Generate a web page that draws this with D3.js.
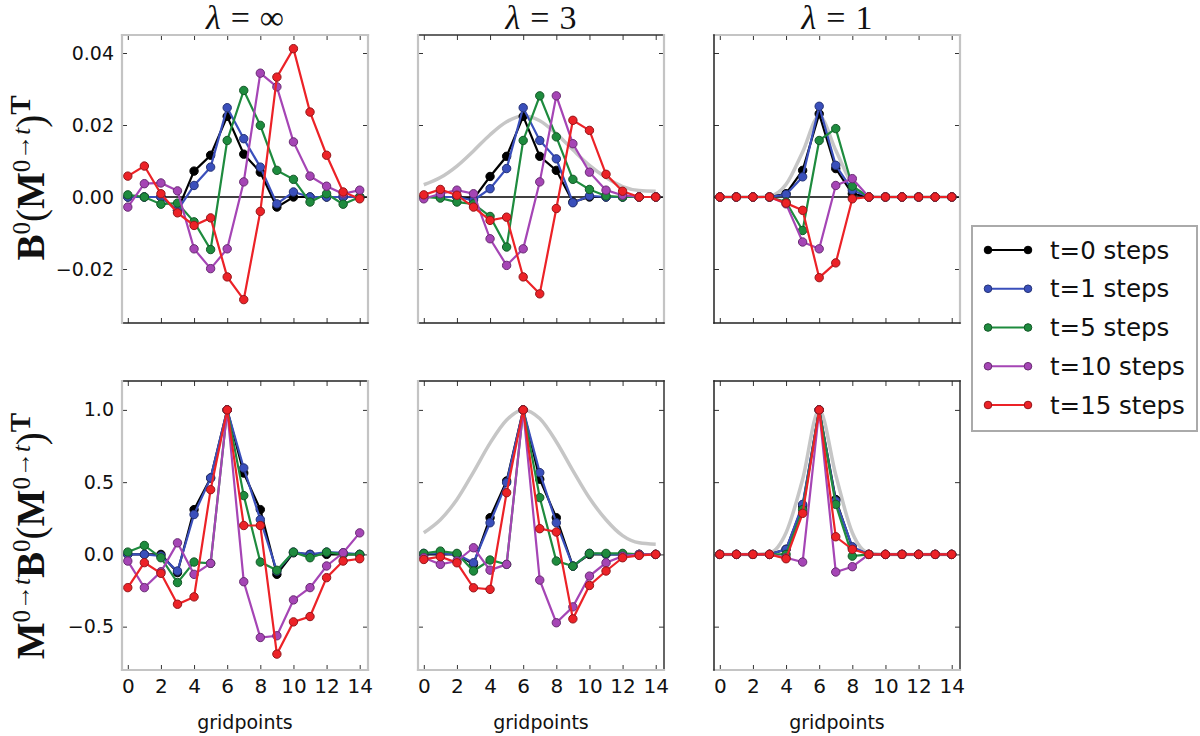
<!DOCTYPE html>
<html>
<head>
<meta charset="utf-8">
<script src="https://cdn.jsdelivr.net/npm/d3@7/dist/d3.min.js"></script>
<style>
    body { margin: 0; background: #fff; }
    svg { display: block; }
</style>
</head>
<body>
<div id="chart"></div>
<script>
// gridpoints along the x axis
const gridpoints = [0, 1, 2, 3, 4, 5, 6, 7, 8, 9, 10, 11, 12, 13, 14];
const xTicks = [0, 2, 4, 6, 8, 10, 12, 14];

const seriesNames = ["t=0 steps", "t=1 steps", "t=5 steps", "t=10 steps", "t=15 steps"];
const seriesColors = ["#000000", "#3a4fbb", "#1e8b3e", "#a545b5", "#ec2227"];

const lambdaTitles = ["\u221e", "3", "1"];

const topTicks = [-0.02, 0, 0.02, 0.04];
const topTickLabels = ["\u22120.02", "0.00", "0.02", "0.04"];
const bottomTicks = [-0.5, 0, 0.5, 1.0];
const bottomTickLabels = ["\u22120.5", "0.0", "0.5", "1.0"];

// top row: B0 (M^{0->t})^T
const topInfT0 = [0, 0, 0, -0.0037, 0.0072, 0.0116, 0.0224, 0.0119, 0.0069, -0.0028, 0, 0, 0, 0, 0];
const topInfT1 = [0, 0, 0, -0.0037, 0.0032, 0.0083, 0.0248, 0.0162, 0.0083, -0.0019, 0.0014, 0, 0, 0, 0];
const topInfT5 = [0.0006, 0, -0.002, -0.0017, -0.0069, -0.0146, 0.0157, 0.0296, 0.0199, 0.0074, 0.0049, -0.0014, 0.0009, -0.002, 0];
const topInfT10 = [-0.0028, 0.0037, 0.0039, 0.0017, -0.0144, -0.0199, -0.0144, 0.0042, 0.0344, 0.0306, 0.0153, 0.0058, 0.003, 0.0009, 0.0019];
const topInfT15 = [0.0058, 0.0086, 0.0009, -0.0044, -0.0079, -0.0058, -0.0222, -0.0285, -0.004, 0.0333, 0.0412, 0.0236, 0.0116, 0.0014, -0.0005];

const top3T0 = [0, 0, 0, -0.0005, 0.0057, 0.0113, 0.0224, 0.0113, 0.0074, -0.0014, 0, 0, 0, 0, 0];
const top3T1 = [0, 0, 0, -0.0009, 0.0023, 0.0079, 0.0248, 0.0157, 0.0106, -0.0016, 0.0003, 0, 0, 0, 0];
const top3T5 = [0, -0.0003, -0.0014, -0.0019, -0.0054, -0.0139, 0.0157, 0.0281, 0.0167, 0.0049, 0.0021, 0.0003, 0, 0, 0];
const top3T10 = [-0.0005, 0.0009, 0.0019, 0.0009, -0.0116, -0.019, -0.0144, 0.0042, 0.0281, 0.0148, 0.0069, 0.0019, 0.0005, 0, 0];
const top3T15 = [0.0006, 0.0021, 0.0005, -0.0028, -0.0065, -0.0056, -0.0222, -0.0269, -0.0032, 0.0213, 0.0185, 0.0063, 0.0016, 0, 0];

const top1T0 = [0, 0, 0, 0, 0.0009, 0.0074, 0.0231, 0.0079, 0.0009, 0, 0, 0, 0, 0, 0];
const top1T1 = [0, 0, 0, 0, 0.0007, 0.0056, 0.0252, 0.0088, 0.0019, 0, 0, 0, 0, 0, 0];
const top1T5 = [0, 0, 0, 0, -0.0014, -0.0093, 0.0157, 0.019, 0.003, 0, 0, 0, 0, 0, 0];
const top1T10 = [0, 0, 0, 0, -0.0019, -0.0125, -0.0144, 0.0032, 0.0051, 0, 0, 0, 0, 0, 0];
const top1T15 = [0, 0, 0, 0, -0.0017, -0.0037, -0.0224, -0.0183, -0.0005, 0, 0, 0, 0, 0, 0];

// bottom row: M^{0->t} B0 (M^{0->t})^T
const botInfT0 = [0, 0, 0, -0.126, 0.31, 0.529, 1.0, 0.563, 0.31, -0.138, 0.011, 0, 0, 0, 0];
const botInfT1 = [0, 0, -0.011, -0.115, 0.276, 0.529, 1.0, 0.598, 0.241, -0.115, 0.016, 0, 0.016, 0.011, 0];
const botInfT5 = [0.016, 0.062, -0.023, -0.195, -0.053, -0.062, 1.0, 0.407, -0.053, -0.11, 0.016, -0.023, 0.016, 0, 0];
const botInfT10 = [-0.046, -0.23, -0.12, 0.08, -0.138, -0.062, 1.0, -0.189, -0.575, -0.563, -0.315, -0.23, -0.08, 0.011, 0.149];
const botInfT15 = [-0.23, -0.057, -0.131, -0.345, -0.294, 0.448, 1.0, 0.2, 0.2, -0.69, -0.467, -0.43, -0.161, -0.046, -0.03];

const bot3T0 = [0, 0, 0, -0.069, 0.254, 0.508, 1.0, 0.52, 0.254, -0.081, 0, 0, 0, 0, 0];
const bot3T1 = [0.007, 0.007, 0, -0.058, 0.219, 0.497, 1.0, 0.566, 0.219, -0.081, 0.007, 0, 0, 0, 0];
const bot3T5 = [0.007, 0.023, 0.007, -0.115, -0.039, -0.069, 1.0, 0.393, -0.046, -0.081, 0.007, 0.007, 0.007, 0, 0];
const bot3T10 = [-0.023, -0.069, -0.046, 0.046, -0.109, -0.069, 1.0, -0.178, -0.473, -0.363, -0.15, -0.058, -0.012, 0, 0];
const bot3T15 = [-0.035, -0.016, -0.058, -0.231, -0.242, 0.427, 1.0, 0.178, 0.155, -0.446, -0.215, -0.115, -0.023, -0.007, 0];

const bot1T0 = [0, 0, 0, 0, 0.035, 0.335, 1.0, 0.38, 0.046, 0, 0, 0, 0, 0, 0];
const bot1T1 = [0, 0, 0, 0, 0.035, 0.346, 1.0, 0.37, 0.053, 0, 0, 0, 0, 0, 0];
const bot1T5 = [0, 0, 0, 0, 0, 0.31, 1.0, 0.346, -0.012, 0, 0, 0, 0, 0, 0];
const bot1T10 = [0, 0, 0, 0, -0.023, -0.053, 1.0, -0.122, -0.085, 0, 0, 0, 0, 0, 0];
const bot1T15 = [0, 0, 0, 0, -0.03, 0.284, 1.0, 0.122, 0.035, 0, 0, 0, 0, 0, 0];

// grey reference correlation curves
const grayTop3 = [0.0034, 0.0054, 0.0086, 0.0128, 0.0173, 0.0209, 0.0225, 0.0212, 0.0176, 0.0131, 0.0088, 0.0054, 0.0029, 0.0018, 0.0016];
const grayBot3 = [0.15, 0.24, 0.38, 0.57, 0.77, 0.93, 1.0, 0.94, 0.78, 0.58, 0.39, 0.24, 0.13, 0.08, 0.07];
const grayTop1 = [0, 0, 0, 0.0002, 0.0035, 0.0125, 0.0225, 0.013, 0.0035, 0.0002, 0, 0, 0, 0, 0];
const grayBot1 = [0, 0, 0, 0.01, 0.15, 0.52, 1.0, 0.55, 0.15, 0.01, 0, 0, 0, 0, 0];

const WIDTH = 1200;
const HEIGHT = 736;
const PANEL_W = 246;
const COL_X = [122, 418, 714];
const ROW_Y = [35, 381];
const ROW_H = [288, 289];
const X_DOMAIN = [-0.35, 14.5];
const GREY = "#c6c6c6";

// edge colours per panel: [top, right, bottom, left]
const edgeColors = [
    ["#c4c4c4", "#c4c4c4", "#222", "#c4c4c4"],
    ["#333", "#c4c4c4", "#222", "#c4c4c4"],
    ["#c4c4c4", "#c4c4c4", "#222", "#222"],
    ["#222", "#c4c4c4", "#c4c4c4", "#c4c4c4"],
    ["#222", "#333", "#c4c4c4", "#c4c4c4"],
    ["#222", "#333", "#c4c4c4", "#222"],
];

class CorrPanel {
    constructor(_svg, _config) {
        this.svg = _svg;
        this.config = _config;
        this.initVis();
    }

    initVis() {
        let vis = this;
        let c = vis.config;

        vis.width = PANEL_W;
        vis.height = c.height;

        vis.g = vis.svg
            .append("g")
            .attr("transform", `translate(${c.left},${c.top})`);

        vis.x = d3.scaleLinear().domain(X_DOMAIN).range([0, vis.width]);
        vis.y = d3.scaleLinear().domain(c.yDomain).range([vis.height, 0]);

        vis.updateVis();
    }

    updateVis() {
        let vis = this;
        let c = vis.config;

        // inward ticks on all four sides
        const bottom = d3.axisBottom(vis.x).tickValues(xTicks).tickSizeInner(-5).tickSizeOuter(0).tickPadding(9)
            .tickFormat(c.xLabels ? d3.format("d") : "");
        const top = d3.axisTop(vis.x).tickValues(xTicks).tickSizeInner(-5).tickSizeOuter(0).tickFormat("");
        const left = d3.axisLeft(vis.y).tickValues(c.yTicks).tickSizeInner(-5).tickSizeOuter(0).tickPadding(8)
            .tickFormat((d, i) => (c.yLabels ? c.yTickLabels[i] : ""));
        const right = d3.axisRight(vis.y).tickValues(c.yTicks).tickSizeInner(-5).tickSizeOuter(0).tickFormat("");

        const axes = [
            [bottom, `translate(0,${vis.height})`, "x"],
            [top, null, ""],
            [left, null, "y"],
            [right, `translate(${vis.width},0)`, ""],
        ];
        axes.forEach(([ax, tr, kind]) => {
            const a = vis.g.append("g").attr("transform", tr).call(ax);
            a.select(".domain").remove();
            a.selectAll("line").attr("stroke", "#333").attr("stroke-width", 1);
            a.selectAll("text")
                .attr("fill", "#111")
                .style("font-family", "DejaVu Sans")
                .style("font-size", kind === "x" ? "20px" : "19px");
        });

        // grey reference curve
        if (c.gray) {
            const smooth = d3.line()
                .x((d, i) => vis.x(gridpoints[i]))
                .y((d) => vis.y(d))
                .curve(d3.curveMonotoneX);
            vis.g.append("path")
                .attr("d", smooth(c.gray))
                .attr("fill", "none")
                .attr("stroke", GREY)
                .attr("stroke-width", 3.5);
        }

        // zero line on the top row
        if (c.zeroLine) {
            vis.g.append("line")
                .attr("x1", 0)
                .attr("x2", vis.width)
                .attr("y1", vis.y(0))
                .attr("y2", vis.y(0))
                .attr("stroke", "#000")
                .attr("stroke-width", 1.3);
        }

        const line = d3.line()
            .x((d, i) => vis.x(gridpoints[i]))
            .y((d) => vis.y(d));

        c.series.forEach((values, s) => {
            const col = seriesColors[s];
            vis.g.append("path")
                .attr("d", line(values))
                .attr("fill", "none")
                .attr("stroke", col)
                .attr("stroke-width", 2.2);

            vis.g.append("g")
                .selectAll("circle")
                .data(values)
                .enter()
                .append("circle")
                .attr("cx", (d, i) => vis.x(gridpoints[i]))
                .attr("cy", (d) => vis.y(d))
                .attr("r", 4.2)
                .attr("fill", col)
                .attr("stroke", d3.color(col).darker(1.3))
                .attr("stroke-width", 1);
        });

        // frame, one edge at a time
        const e = c.edges;
        const sides = [
            [0, 0, vis.width, 0, e[0]],
            [vis.width, 0, vis.width, vis.height, e[1]],
            [0, vis.height, vis.width, vis.height, e[2]],
            [0, 0, 0, vis.height, e[3]],
        ];
        sides.forEach(([x1, y1, x2, y2, col]) => {
            vis.g.append("line")
                .attr("x1", x1).attr("y1", y1)
                .attr("x2", x2).attr("y2", y2)
                .attr("stroke", col)
                .attr("stroke-width", col === "#c4c4c4" ? 2.2 : 1.5)
                .attr("stroke-linecap", "square");
        });

        if (c.xLabels) {
            vis.g.append("text")
                .attr("x", vis.width / 2)
                .attr("y", vis.height + 59)
                .attr("text-anchor", "middle")
                .style("font-family", "DejaVu Sans")
                .style("font-size", "19px")
                .attr("fill", "#111")
                .text("gridpoints");
        }
    }
}

const svg = d3.select("#chart")
    .append("svg")
    .attr("width", WIDTH)
    .attr("height", HEIGHT);

const topSeries = [
    [topInfT0, topInfT1, topInfT5, topInfT10, topInfT15],
    [top3T0, top3T1, top3T5, top3T10, top3T15],
    [top1T0, top1T1, top1T5, top1T10, top1T15],
];
const bottomSeries = [
    [botInfT0, botInfT1, botInfT5, botInfT10, botInfT15],
    [bot3T0, bot3T1, bot3T5, bot3T10, bot3T15],
    [bot1T0, bot1T1, bot1T5, bot1T10, bot1T15],
];
const topGray = [null, grayTop3, grayTop1];
const bottomGray = [null, grayBot3, grayBot1];

COL_X.forEach((left, col) => {
    new CorrPanel(svg, {
        left: left, top: ROW_Y[0], height: ROW_H[0],
        yDomain: [-0.035, 0.045], yTicks: topTicks, yTickLabels: topTickLabels,
        yLabels: col === 0, xLabels: false, zeroLine: true,
        series: topSeries[col], gray: topGray[col], edges: edgeColors[col],
    });
    new CorrPanel(svg, {
        left: left, top: ROW_Y[1], height: ROW_H[1],
        yDomain: [-0.8, 1.2], yTicks: bottomTicks, yTickLabels: bottomTickLabels,
        yLabels: col === 0, xLabels: true, zeroLine: false,
        series: bottomSeries[col], gray: bottomGray[col], edges: edgeColors[col + 3],
    });

    // column titles
    const t = svg.append("text")
        .attr("x", left + PANEL_W / 2)
        .attr("y", 29)
        .attr("text-anchor", "middle")
        .style("font-family", "'Liberation Serif', serif")
        .style("font-size", "34px")
        .attr("fill", "#111");
    t.append("tspan").style("font-style", "italic").text("\u03bb");
    t.append("tspan").attr("dx", 10).text("=");
    t.append("tspan").attr("dx", 10).text(lambdaTitles[col]);
});

// rotated math labels built from pieces: [text, size, weight, style, rise]
function mathLabel(cx, cy, pieces) {
    const t = svg.append("text")
        .attr("transform", `translate(${cx},${cy}) rotate(-90)`)
        .attr("text-anchor", "middle")
        .style("font-family", "'Liberation Serif', serif")
        .attr("fill", "#111");
    let prev = 0;
    pieces.forEach(([txt, size, weight, style, rise]) => {
        t.append("tspan")
            .attr("dy", prev - rise)
            .style("font-size", size + "px")
            .style("font-weight", weight)
            .style("font-style", style)
            .text(txt);
        prev = rise;
    });
}

mathLabel(44, 178, [
    ["B", 39, "bold", "normal", 0],
    ["0", 25, "normal", "normal", 14],
    ["(", 39, "normal", "normal", 0],
    ["M", 39, "bold", "normal", 0],
    ["0\u2192", 25, "normal", "normal", 14],
    ["t", 25, "normal", "italic", 14],
    [")", 39, "normal", "normal", 0],
    ["T", 29, "bold", "normal", 14],
]);

mathLabel(44, 536, [
    ["M", 39, "bold", "normal", 0],
    ["0\u2192", 25, "normal", "normal", 14],
    ["t", 25, "normal", "italic", 14],
    ["B", 39, "bold", "normal", 0],
    ["0", 25, "normal", "normal", 14],
    ["(", 39, "normal", "normal", 0],
    ["M", 39, "bold", "normal", 0],
    ["0\u2192", 25, "normal", "normal", 14],
    ["t", 25, "normal", "italic", 14],
    [")", 39, "normal", "normal", 0],
    ["T", 29, "bold", "normal", 14],
]);

// legend
const legend = svg.append("g").attr("transform", "translate(972,226)");
legend.append("rect")
    .attr("width", 225)
    .attr("height", 205)
    .attr("fill", "#fff")
    .attr("stroke", "#aaa")
    .attr("stroke-width", 2);

const legendY = d3.scalePoint().domain(seriesNames).range([24, 179]);
seriesNames.forEach((name, i) => {
    const row = legend.append("g").attr("transform", `translate(0,${legendY(name)})`);
    row.append("line")
        .attr("x1", 16).attr("x2", 56)
        .attr("stroke", seriesColors[i])
        .attr("stroke-width", 2.2);
    [16, 56].forEach((cx) => {
        row.append("circle")
            .attr("cx", cx)
            .attr("r", 3.8)
            .attr("fill", seriesColors[i])
            .attr("stroke", d3.color(seriesColors[i]).darker(1.3));
    });
    row.append("text")
        .attr("x", 78)
        .attr("dy", "0.35em")
        .style("font-family", "DejaVu Sans")
        .style("font-size", "24.5px")
        .attr("fill", "#111")
        .text(name);
});
</script>
</body>
</html>
